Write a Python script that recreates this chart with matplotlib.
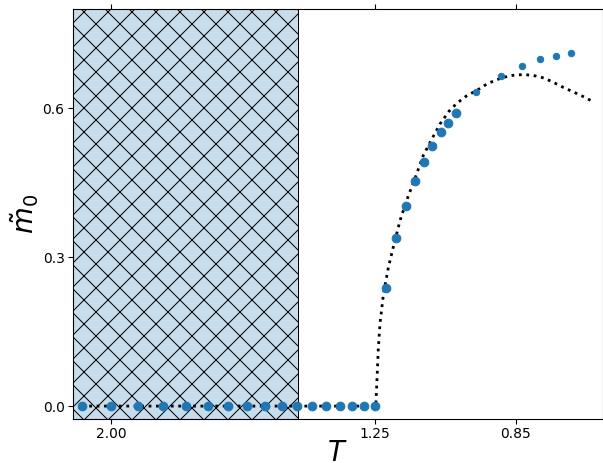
import matplotlib
matplotlib.use("Agg")
import matplotlib.pyplot as plt

# large markers: simulation, T values
T_big = [2.083, 2.000, 1.923, 1.852, 1.786, 1.724, 1.667, 1.613, 1.563, 1.515,
         1.471, 1.429, 1.389, 1.351, 1.316, 1.282, 1.250, 1.220, 1.190, 1.163,
         1.136, 1.111, 1.087, 1.064, 1.042, 1.020]
m_big = [0.0, 0.0, 0.0, 0.0, 0.0, 0.0, 0.0, 0.0, 0.0, 0.0,
         0.0, 0.0, 0.0, 0.0, 0.0, 0.0, 0.0, 0.237, 0.338, 0.404,
         0.454, 0.491, 0.525, 0.552, 0.571, 0.591]

# small markers
T_small = [0.962, 0.893, 0.833, 0.781, 0.735, 0.694]
m_small = [0.632, 0.665, 0.685, 0.699, 0.705, 0.712]

# dotted theory curve
T_fit = [2.083, 1.248, 1.245, 1.241, 1.236, 1.226, 1.212, 1.198, 1.179, 1.160,
         1.136, 1.113, 1.085, 1.065, 1.040, 1.018, 0.990, 0.961, 0.930, 0.895,
         0.865, 0.828, 0.800, 0.770, 0.743, 0.715, 0.687, 0.660, 0.630]
m_fit = [0.0, 0.0, 0.046, 0.113, 0.166, 0.227, 0.280, 0.321, 0.374, 0.415,
         0.460, 0.505, 0.543, 0.569, 0.594, 0.610, 0.625, 0.636, 0.650, 0.660,
         0.666, 0.668, 0.666, 0.661, 0.652, 0.642, 0.633, 0.624, 0.613]

# hatched region
T_span = (2.2, 1.469)

xticks = [2.00, 1.25, 0.85]
yticks = [0.0, 0.3, 0.6]

fig = plt.figure(figsize=(603 / 72, 463 / 72), dpi=72)
ax = fig.add_axes([73 / 603, 1 - 419 / 463, 529.5 / 603, 410 / 463])

ax.axvspan(T_span[0], T_span[1], facecolor='#c7ddec', edgecolor='k',
           hatch='x', linewidth=1.0, zorder=0)
ax.plot(T_fit, m_fit, ':', color='k', lw=2.8, zorder=2)
ax.plot(T_big, m_big, 'o', color='#1f77b4', ms=8.7, zorder=3)
ax.plot(T_small, m_small, 'o', color='#1f77b4', ms=6.4, zorder=3)

ax.set_xlim(2.108, 0.604)
ax.set_ylim(-0.026, 0.80)
ax.set_xticks(xticks)
ax.set_xticklabels([f"{t:.2f}" for t in xticks])
ax.set_yticks(yticks)
ax.set_yticklabels([f"{t:.1f}" for t in yticks])
ax.tick_params(axis='both', labelsize=13.9, length=4.9, width=1.1)
ax.tick_params(axis='x', top=True)
for sp in ax.spines.values():
    sp.set_linewidth(1.1)
ax.set_xlabel(r"$T$", fontsize=27.5, labelpad=-2)
ax.set_ylabel(r"$\tilde{m}_0$", fontsize=27.5, labelpad=2)

fig.savefig("out.png", dpi=72)
